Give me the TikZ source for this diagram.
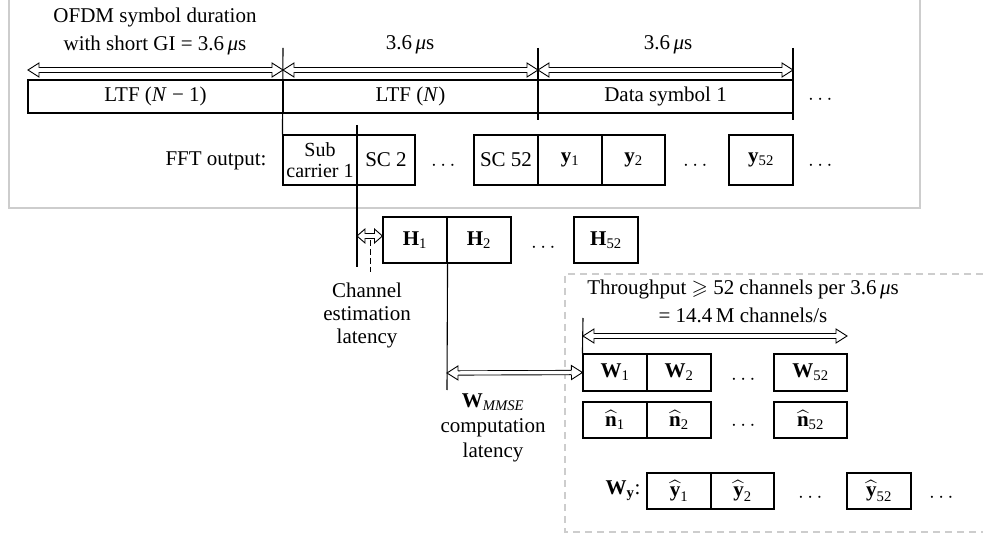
\documentclass[tikz,border=0pt]{standalone}
\usepackage{amsmath,amssymb}
\usepackage{fontspec}
\setmainfont{Liberation Serif}
\usetikzlibrary{arrows.meta,decorations.markings}
\definecolor{framegray}{RGB}{205,205,205}
\newcommand{\mus}{3.6\,\textit{μ}s}
\newcommand{\bsub}[2]{\textbf{#1}\textsubscript{#2}}
\newcommand{\hsub}[2]{$\widehat{\textbf{#1}}_{\textnormal{#2}}$}

\begin{document}
\begin{tikzpicture}[x=1pt,y=-1pt,every node/.style={font=\fontsize{21}{24}\selectfont},cell/.style={draw,line width=1.1pt,inner sep=0pt,align=center},ltfcell/.style={cell,minimum height=33pt,minimum width=255pt},hollow/.style={double,double distance=3.4pt,line width=.9pt,shorten <=#1,shorten >=#1,postaction={decorate,decoration={markings,mark=at position 0 with {\filldraw[fill=white,line width=.9pt,shorten <=0pt,shorten >=0pt] (#1,2.15pt)--(#1,7pt)--(0,0)--(#1,-7pt)--(#1,-2.15pt);},mark=at position 1 with {\filldraw[fill=white,line width=.9pt,shorten <=0pt,shorten >=0pt] (-#1,2.15pt)--(-#1,7pt)--(0,0)--(-#1,-7pt)--(-#1,-2.15pt);}}}},hollow/.default=11pt,tick/.style={line width=1.1pt},frame/.style={draw=framegray,line width=1.2pt}]
\useasboundingbox (0,0) rectangle (983,537);

\draw[frame] (9,0)--(9,208)--(920,208)--(920,0);
\draw[frame,dashed,dash pattern=on 7pt off 5pt] (983,274)--(565,274)--(565,532)--(983,532);

\node[ltfcell] (ltfa) at (155.5,96.5) {LTF (\textit{N} − 1)};
\node[ltfcell] (ltfb) at (410.5,96.5) {LTF (\textit{N})};
\node[ltfcell] (dat) at (665.5,96.5) {Data symbol 1};
\node (dotsa) at (822,100) {$\cdots$};

\coordinate (t0) at (28,70);\coordinate (t1) at (283,70);\coordinate (t2) at (538,70);\coordinate (t3) at (793,70);
\coordinate (k1) at (283,48);\coordinate (k2) at (538,48);\coordinate (k3) at (793,48);
\coordinate (k2b) at (538,120);\coordinate (k3b) at (793,120);
\draw[hollow] (t0)--(t1);\draw[hollow] (t1)--(t2);\draw[hollow] (t2)--(t3);
\node[align=center,font=\fontsize{21}{28}\selectfont] (dur) at (155,31) {OFDM symbol duration\\with short GI = \mus};
\node (durb) at (410,45) {\mus};
\node (durc) at (668,45) {\mus};

\node[anchor=east] (fft) at (270,161) {FFT output:};
\node[cell,minimum width=74pt,minimum height=50pt,font=\fontsize{20}{21}\selectfont] (sca) at (320,160) {Sub\\carrier 1};
\node[cell,minimum width=58pt,minimum height=50pt] (scb) at (386,160) {SC 2};
\node (dotsb) at (445,166) {$\cdots$};
\node[cell,minimum width=64pt,minimum height=50pt] (scz) at (506,160) {SC 52};
\node[cell,minimum width=64pt,minimum height=50pt] (ya) at (570,160) {\bsub{y}{1}};
\node[cell,minimum width=63pt,minimum height=50pt] (yb) at (633.5,160) {\bsub{y}{2}};
\node (dotsc) at (697,166) {$\cdots$};
\node[cell,minimum width=64pt,minimum height=50pt] (yz) at (761,160) {\bsub{y}{52}};
\node (dotsd) at (822,166) {$\cdots$};
\draw[tick] (k1)--(sca.north west);
\draw[tick] (k2)--(k2b);\draw[tick] (k3)--(k3b);

\node[cell,minimum width=64pt,minimum height=46pt] (ha) at (415,240) {\bsub{H}{1}};
\node[cell,minimum width=64pt,minimum height=46pt] (hb) at (479,240) {\bsub{H}{2}};
\node (dotse) at (545,248) {$\cdots$};
\node[cell,minimum width=64pt,minimum height=46pt] (hz) at (606,240) {\bsub{H}{52}};

\coordinate (c1) at (357,125);\coordinate (c2) at (357,267);\coordinate (e1) at (357,236);
\draw[tick] (c1)--(c2);
\draw[hollow=8pt] (e1)--(e1-|ha.west);
\coordinate (d1) at (370,240);\coordinate (d2) at (370,272);
\draw[line width=1pt,dash pattern=on 6pt off 3pt] (d1)--(d2);
\node[align=center,font=\fontsize{21}{23}\selectfont] (chest) at (367,315) {Channel\\estimation\\latency};

\node[cell,minimum width=64pt,minimum height=37pt] (wa) at (615,372.5) {\bsub{W}{1}};
\node[cell,minimum width=64pt,minimum height=37pt] (wb) at (679,372.5) {\bsub{W}{2}};
\node (dotsf) at (745,380) {$\cdots$};
\node[cell,minimum width=73pt,minimum height=37pt] (wz) at (810.5,372.5) {\bsub{W}{52}};

\coordinate (g1) at (447,390);\coordinate (g2) at (447,373);
\draw[tick] (ha.south east)--(g1);
\draw[hollow] (g2)--(wa.west);
\node[align=center,font=\fontsize{21}{25}\selectfont] (wlat) at (493,428) {\bsub{W}{\textit{MMSE}}\\computation\\latency};

\coordinate (p1) at (583,318);\coordinate (p2) at (583,336);\coordinate (p3) at (847,336);
\draw[tick] (p1)--(wa.north west);
\draw[hollow] (p2)--(p3);
\node[align=center,font=\fontsize{21}{28}\selectfont] (thr) at (743,301) {Throughput $\geqslant$ 52 channels per \mus\\= 14.4\,M channels/s};

\node[cell,minimum width=64pt,minimum height=36pt] (na) at (615,420) {\hsub{n}{1}};
\node[cell,minimum width=64pt,minimum height=36pt] (nb) at (679,420) {\hsub{n}{2}};
\node (dotsg) at (745,426) {$\cdots$};
\node[cell,minimum width=73pt,minimum height=36pt] (nz) at (810.5,420) {\hsub{n}{52}};

\node (wy) at (623,491) {\textbf{W}\textsubscript{\textbf{y}}:};
\node[cell,minimum width=64pt,minimum height=36pt] (ea) at (679,491) {\hsub{y}{1}};
\node[cell,minimum width=63pt,minimum height=36pt] (eb) at (742.5,491) {\hsub{y}{2}};
\node (dotsh) at (812,498) {$\cdots$};
\node[cell,minimum width=64pt,minimum height=36pt] (ez) at (879,491) {\hsub{y}{52}};
\node (dotsi) at (943,498) {$\cdots$};
\end{tikzpicture}
\end{document}
